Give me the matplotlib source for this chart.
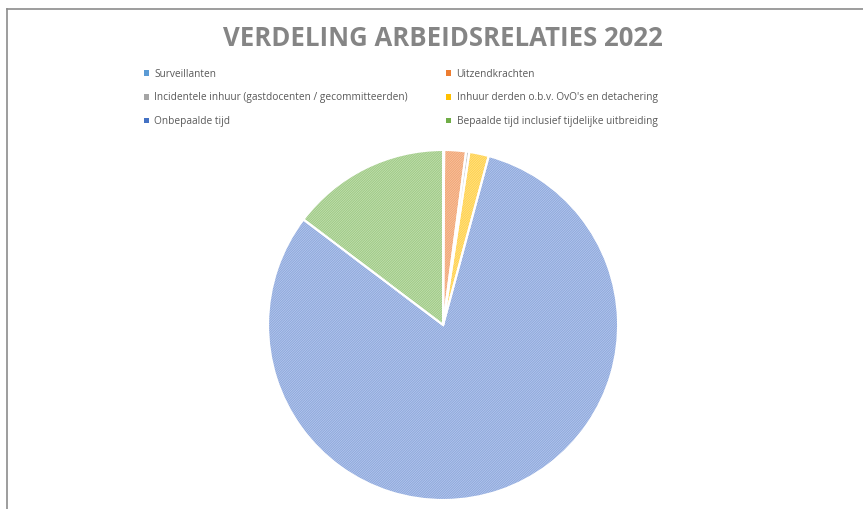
import matplotlib.pyplot as plt
from matplotlib.patches import Patch
from matplotlib.lines import Line2D

# data (share in %)
labels = ['Surveillanten', 'Uitzendkrachten',
          'Incidentele inhuur (gastdocenten / gecommitteerden)',
          "Inhuur derden o.b.v. OvO's en detachering",
          'Onbepaalde tijd', 'Bepaalde tijd inclusief tijdelijke uitbreiding']
shares = [0.1, 2.0, 0.3, 1.8, 81.1, 14.7]
colors = ['#5B9BD5', '#ED7D31', '#A5A5A5', '#FFC000', '#4472C4', '#70AD47']
light = ['#c3dbf0', '#f8cdb0', '#dcdcdc', '#ffe59a', '#c2d2f0', '#cde4bd']
hatchc = ['#94bde3', '#f2a574', '#c4c4c4', '#ffd24d', '#8ea8dd', '#9fcb86']

plt.rcParams['font.family'] = ['Open Sans', 'DejaVu Sans']
plt.rcParams['hatch.linewidth'] = 0.8

fig = plt.figure(figsize=(8.63, 5.09), dpi=100)
ax = fig.add_axes([0.3106, 0.0177, 0.4056, 0.6876])

# hatched fill first, then white slice borders on top
wedges, _ = ax.pie(shares, colors=light, startangle=90, counterclock=False,
                   radius=1.0)
for w, c in zip(wedges, hatchc):
    w.set_hatch('/' * 14)
    w.set_edgecolor(c)
    w.set_linewidth(0)
ax.pie(shares, colors=['none'] * len(shares), startangle=90, counterclock=False,
       radius=1.0, wedgeprops=dict(edgecolor='white', linewidth=1.5))
ax.set_xlim(-1.0, 1.0)
ax.set_ylim(-1.0, 1.0)
ax.set_aspect('equal')
ax.axis('off')

fig.text(0.5135, 0.925, 'VERDELING ARBEIDSRELATIES 2022', ha='center', va='center',
         fontsize=18.5, fontweight='bold', color='#858585')

# legend is filled column by column, reorder so it reads row by row
order = [0, 2, 4, 1, 3, 5]
handles = [Patch(facecolor=colors[i], edgecolor='none') for i in order]
leg = fig.legend(handles, [labels[i] for i in order], ncol=2,
                 loc='upper left', bbox_to_anchor=(0.167, 0.865),
                 frameon=False, fontsize=7.3, handlelength=0.5, handleheight=0.5,
                 handletextpad=0.5, columnspacing=3.8, labelspacing=1.25,
                 borderaxespad=0, borderpad=0)
for t in leg.get_texts():
    t.set_color('#595959')

# frame of the chart area (top and left edge visible)
fig.add_artist(Line2D([0.008, 1.0], [0.982, 0.982], color='#8c8c8c', lw=1.2))
fig.add_artist(Line2D([0.008, 0.008], [0.0, 0.982], color='#8c8c8c', lw=1.2))

plt.savefig('out.png', dpi=100)
